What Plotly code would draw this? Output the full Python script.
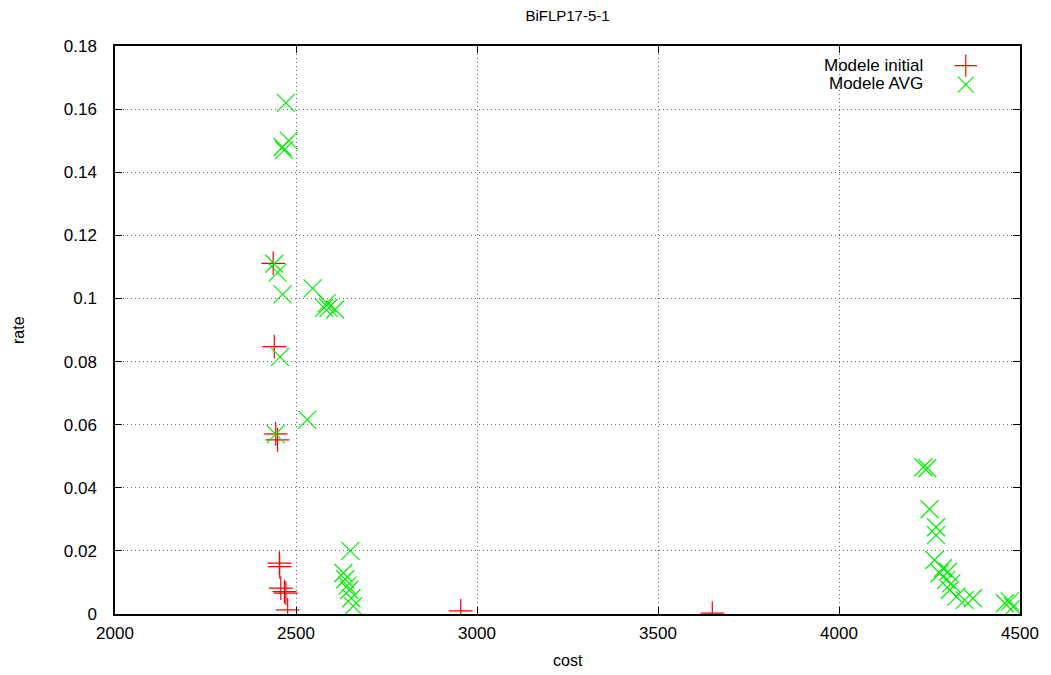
import plotly.graph_objects as go

init_cost = [2437, 2440, 2444, 2449, 2454, 2455, 2458, 2468, 2472, 2477, 2955, 3650]
init_rate = [0.1111, 0.0847, 0.0571, 0.0552, 0.0161, 0.0150, 0.0082, 0.0071, 0.0066, 0.0013, 0.0010, 0.0003]

avg_cost = [2472, 2463, 2480, 2467, 2440, 2449, 2463, 2546, 2578, 2585, 2590, 2608,
            2456, 2531, 2444,
            2650, 2631, 2636, 2642, 2647, 2653, 2658,
            4233, 4244, 4250, 4268, 4268, 4264, 4287, 4278, 4301, 4296, 4310, 4306,
            4324, 4347, 4370, 4458, 4481, 4472]
avg_rate = [0.162, 0.148, 0.150, 0.147, 0.111, 0.1082, 0.1013, 0.1032, 0.097, 0.0985, 0.097, 0.0965,
            0.0815, 0.0616, 0.057,
            0.020, 0.013, 0.011, 0.009, 0.0076, 0.005, 0.0025,
            0.0465, 0.0462, 0.0332, 0.0275, 0.025, 0.0171, 0.0145, 0.0129, 0.0134, 0.0108, 0.0097, 0.0076,
            0.0055, 0.0044, 0.005, 0.0034, 0.0023, 0.004]

x_ticks = [2000, 2500, 3000, 3500, 4000, 4500]
y_ticks = [0, 0.02, 0.04, 0.06, 0.08, 0.1, 0.12, 0.14, 0.16, 0.18]
y_labels = ["0", "0.02", "0.04", "0.06", "0.08", "0.1", "0.12", "0.14", "0.16", "0.18"]

font = "Liberation Sans, Arial, sans-serif"

fig = go.Figure()
fig.add_trace(go.Scatter(
    x=init_cost, y=init_rate, mode="markers", name=" ",
    marker=dict(symbol="cross-thin", size=17, line=dict(color="#ff0000", width=1.2), color="#ff0000"),
))
fig.add_trace(go.Scatter(
    x=avg_cost, y=avg_rate, mode="markers", name=" ",
    marker=dict(symbol="x-thin", size=18, line=dict(color="#00ee00", width=1.2), color="#00ee00"),
))

axis_common = dict(
    showline=True, linecolor="black", linewidth=1.5, mirror="allticks",
    ticks="inside", ticklen=7, tickcolor="black", tickwidth=1,
    showgrid=True, gridcolor="#666666", griddash="1px,3px", gridwidth=1,
    zeroline=False, tickfont=dict(family=font, size=17, color="black"),
)

fig.update_layout(
    width=1051, height=675,
    margin=dict(l=115, r=31, t=46, b=61),
    paper_bgcolor="white", plot_bgcolor="white",
    title=dict(text="BiFLP17-5-1", x=0.5, xref="paper", xanchor="center", y=0.985, yanchor="top",
               font=dict(family=font, size=15, color="black")),
    xaxis=dict(range=[2000, 4500], tickvals=x_ticks, ticktext=[str(v) for v in x_ticks],
               ticklabelstandoff=3, automargin=False,
               **axis_common),
    yaxis=dict(range=[0, 0.18], tickvals=y_ticks, ticktext=y_labels,
               ticklabelstandoff=13, automargin=False,
               **axis_common),
    legend=dict(x=0.918, y=0.991, xanchor="left", yanchor="top", bgcolor="rgba(0,0,0,0)",
                font=dict(family=font, size=7), tracegroupgap=0, itemwidth=30),
    showlegend=True,
    annotations=[
        dict(text="Modele initial", xref="paper", yref="paper", x=0.895, y=0.9665,
             xanchor="right", yanchor="middle", showarrow=False,
             font=dict(family=font, size=17, color="black")),
        dict(text="Modele AVG", xref="paper", yref="paper", x=0.895, y=0.934,
             xanchor="right", yanchor="middle", showarrow=False,
             font=dict(family=font, size=17, color="black")),
        dict(text="cost", xref="paper", yref="paper", x=0.5, y=-0.0827,
             xanchor="center", yanchor="middle", showarrow=False,
             font=dict(family=font, size=16, color="black")),
        dict(text="rate", xref="paper", yref="paper", x=-0.1072, y=0.5, textangle=-90,
             xanchor="center", yanchor="middle", showarrow=False,
             font=dict(family=font, size=16, color="black")),
    ],
)

fig.write_html("out.html")
